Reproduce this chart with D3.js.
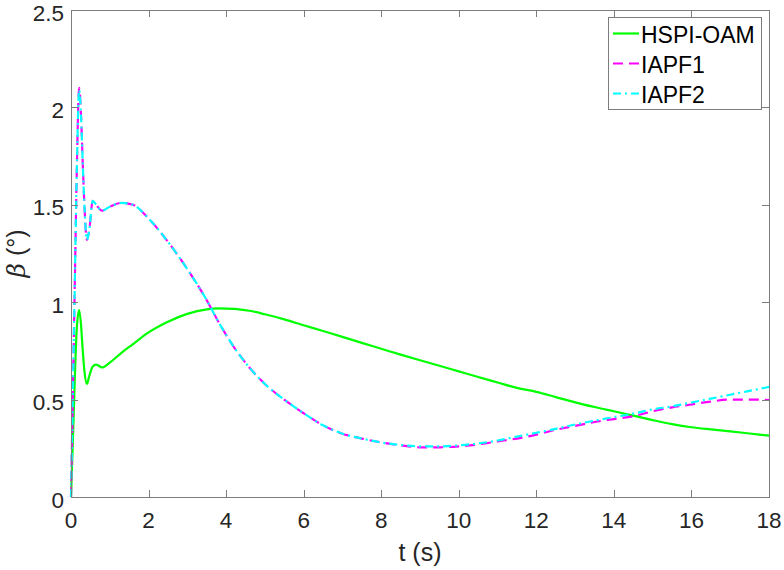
<!DOCTYPE html>
<html>
<head>
<meta charset="utf-8">
<script src="https://cdn.jsdelivr.net/npm/d3@7"></script>
<style>
  body { margin: 0; background: #fff; }
  text { font-family: "Liberation Sans", Arial, sans-serif; }
</style>
</head>
<body>
<div id="chart"></div>
<script>
"use strict";

// time samples (s), shared by all three series
const time = [0, 0.05, 0.1, 0.15, 0.21, 0.26, 0.3, 0.35, 0.41, 0.47, 0.56, 0.65, 0.8, 1.0, 1.3, 1.6,
  2.0, 2.5, 3.0, 3.5, 3.8, 4.2, 4.6, 5.0, 5.5, 6.0, 6.5, 7.0, 7.5, 8, 8.5, 9, 9.5, 10, 10.5, 11,
  11.5, 12, 12.5, 13, 13.5, 14, 14.5, 15, 15.5, 16, 16.5, 17, 17.5, 18];

const hspiOam = [0, 0.30, 0.62, 0.87, 0.96, 0.88, 0.76, 0.64, 0.58, 0.62, 0.67, 0.68, 0.665, 0.69, 0.74, 0.785,
  0.845, 0.90, 0.94, 0.963, 0.968, 0.966, 0.956, 0.938, 0.912, 0.882, 0.852, 0.822, 0.791, 0.761, 0.731, 0.702, 0.674, 0.645, 0.616, 0.588,
  0.56, 0.54, 0.513, 0.486, 0.462, 0.44, 0.418, 0.395, 0.374, 0.358, 0.347, 0.337, 0.326, 0.315];

const iapf1 = [0, 0.55, 1.12, 1.68, 2.10, 1.95, 1.73, 1.48, 1.32, 1.37, 1.52, 1.50, 1.47, 1.49, 1.51, 1.50,
  1.43, 1.31, 1.17, 1.01, 0.90, 0.77, 0.665, 0.58, 0.50, 0.43, 0.368, 0.325, 0.30, 0.28, 0.265, 0.255, 0.255, 0.26, 0.27, 0.285,
  0.30, 0.32, 0.345, 0.365, 0.385, 0.40, 0.415, 0.44, 0.46, 0.475, 0.49, 0.50, 0.50, 0.498];

const iapf2 = [0, 0.55, 1.12, 1.68, 2.09, 1.95, 1.73, 1.48, 1.32, 1.37, 1.52, 1.50, 1.47, 1.49, 1.51, 1.50,
  1.43, 1.31, 1.17, 1.01, 0.90, 0.77, 0.665, 0.58, 0.50, 0.43, 0.368, 0.325, 0.30, 0.28, 0.267, 0.26, 0.26, 0.265, 0.275, 0.29,
  0.31, 0.33, 0.35, 0.372, 0.392, 0.41, 0.428, 0.45, 0.465, 0.485, 0.505, 0.525, 0.545, 0.565];

const tTicks = [0, 2, 4, 6, 8, 10, 12, 14, 16, 18];
const betaTicks = [0, 0.5, 1, 1.5, 2, 2.5];

const seriesNames = ["HSPI-OAM", "IAPF1", "IAPF2"];
const seriesColors = ["#00ff00", "#ff00ff", "#00ffff"];
const seriesDash = [null, "10,6", "8,4,2,4"];

// === SVG setup ===
const svgWidth = 784, svgHeight = 570;
const margin = { top: 10, right: 15, bottom: 73, left: 71 };
const axisColor = "#7d7d7d", textColor = "#262626";

const svg = d3.select("#chart")
  .append("svg")
  .attr("width", svgWidth)
  .attr("height", svgHeight);

const x = d3.scaleLinear().domain([0, 18]).range([margin.left, svgWidth - margin.right]);
const y = d3.scaleLinear().domain([0, 2.5]).range([svgHeight - margin.bottom, margin.top]);

const x0 = x.range()[0], x1 = x.range()[1];
const y0 = y.range()[0], y1 = y.range()[1];

// === Lines ===
const allSeries = [hspiOam, iapf1, iapf2];
const line = d3.line()
  .x((d, i) => x(time[i]))
  .y(d => y(d))
  .curve(d3.curveMonotoneX);

const plot = svg.append("g");
allSeries.forEach((vals, k) => {
  plot.append("path")
    .datum(vals)
    .attr("d", line)
    .attr("fill", "none")
    .attr("stroke", seriesColors[k])
    .attr("stroke-width", 2.2)
    .attr("stroke-dasharray", seriesDash[k]);
});

// === Box and ticks (MATLAB style, ticks inward on all sides) ===
svg.append("rect")
  .attr("x", x0 + 0.5).attr("y", y1 + 0.5)
  .attr("width", x1 - x0).attr("height", y0 - y1)
  .attr("fill", "none")
  .attr("stroke", axisColor);

const tickLen = 7;
tTicks.forEach(t => {
  const px = Math.round(x(t)) + 0.5;
  svg.append("line").attr("x1", px).attr("x2", px).attr("y1", y0).attr("y2", y0 - tickLen).attr("stroke", axisColor);
  svg.append("line").attr("x1", px).attr("x2", px).attr("y1", y1).attr("y2", y1 + tickLen).attr("stroke", axisColor);
  svg.append("text")
    .attr("x", x(t))
    .attr("y", 528)
    .attr("text-anchor", "middle")
    .attr("font-size", "22.5px")
    .attr("fill", textColor)
    .text(t);
});

betaTicks.forEach(b => {
  const py = Math.round(y(b)) + 0.5;
  svg.append("line").attr("x1", x0).attr("x2", x0 + tickLen).attr("y1", py).attr("y2", py).attr("stroke", axisColor);
  svg.append("line").attr("x1", x1).attr("x2", x1 - tickLen).attr("y1", py).attr("y2", py).attr("stroke", axisColor);
  svg.append("text")
    .attr("x", 64)
    .attr("y", y(b) + 10.5)
    .attr("text-anchor", "end")
    .attr("font-size", "22.5px")
    .attr("fill", textColor)
    .text(b);
});

// === Axis labels ===
svg.append("text")
  .attr("x", (x0 + x1) / 2)
  .attr("y", 561)
  .attr("text-anchor", "middle")
  .attr("font-size", "25px")
  .attr("fill", textColor)
  .text("t (s)");

const yLab = svg.append("text")
  .attr("transform", `translate(25, ${(y0 + y1) / 2}) rotate(-90)`)
  .attr("text-anchor", "middle")
  .attr("font-size", "25px")
  .attr("fill", textColor);
yLab.append("tspan")
  .attr("font-family", "'DejaVu Serif', serif")
  .attr("font-style", "italic")
  .text("β");
yLab.append("tspan").text(" (°)");

// === Legend ===
const legend = svg.append("g");
legend.append("rect")
  .attr("x", 608.5).attr("y", 17.5)
  .attr("width", 153).attr("height", 92)
  .attr("fill", "#fff")
  .attr("stroke", axisColor);

seriesNames.forEach((name, k) => {
  const cy = 33.5 + k * 30;
  legend.append("line")
    .attr("x1", 613).attr("x2", 639)
    .attr("y1", cy).attr("y2", cy)
    .attr("stroke", seriesColors[k])
    .attr("stroke-width", 2.2)
    .attr("stroke-dasharray", seriesDash[k]);
  legend.append("text")
    .attr("x", 641)
    .attr("y", cy + 9.5)
    .attr("font-size", "23px")
    .attr("fill", "#000")
    .text(name);
});
</script>
</body>
</html>
